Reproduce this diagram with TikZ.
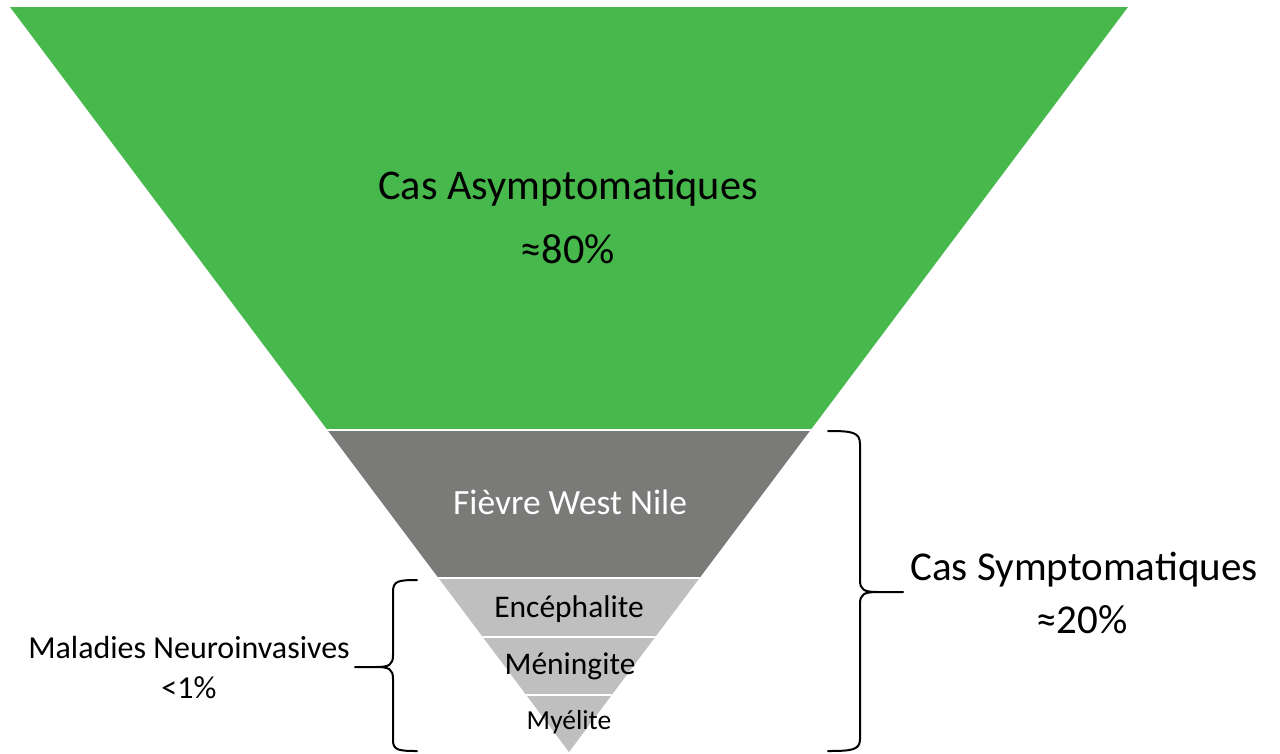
\documentclass[tikz,border=0pt]{standalone}
\usepackage{fontspec}
\setmainfont{Carlito}
\definecolor{fgreen}{RGB}{71,184,75}
\definecolor{fdark}{RGB}{122,122,120}
\definecolor{flight}{RGB}{191,191,191}
\tikzset{
  lbl/.style={anchor=base, inner sep=0pt, text=black},
  brace/.style={draw=black, line width=2pt, line cap=round, line join=round},
  sep/.style={draw=white, line width=2pt}
}
\begin{document}
\begin{tikzpicture}[x=1pt,y=-1pt]
\useasboundingbox (0,0) rectangle (1280,753);
\coordinate (tl) at (10,7);
\coordinate (tr) at (1128,7);
\coordinate (ap) at (569,752);
\begin{scope}
  \clip (tl) -- (tr) -- (ap) -- cycle;
  \fill[fgreen] (0,0) rectangle (1280,430);
  \fill[fdark] (0,430) rectangle (1280,578);
  \fill[flight] (0,578) rectangle (1280,753);
  \draw[sep] (0,430) -- (1280,430);
  \draw[sep] (0,578) -- (1280,578);
  \draw[sep] (0,637) -- (1280,637);
  \draw[sep] (0,695) -- (1280,695);
\end{scope}
% texts
\node[lbl, font=\fontsize{42.3}{50}\selectfont] (asy) at (568,199) {Cas Asymptomatiques};
\node[lbl, font=\fontsize{42.3}{50}\selectfont] (p80) at (568,263) {≈80\%};
\node[lbl, font=\fontsize{35.5}{42}\selectfont, text=white] (fwn) at (570,514) {Fièvre West Nile};
\node[lbl, font=\fontsize{31.5}{38}\selectfont] (enc) at (569,617) {Encéphalite};
\node[lbl, font=\fontsize{31.5}{38}\selectfont] (men) at (570,674) {Méningite};
\node[lbl, font=\fontsize{27.5}{32}\selectfont] (mye) at (569,729) {Myélite};
\node[lbl, font=\fontsize{41}{48}\selectfont] (sym) at (1084,580) {Cas Symptomatiques};
\node[lbl, font=\fontsize{41}{48}\selectfont] (p20) at (1082,633) {≈20\%};
\node[lbl, font=\fontsize{32}{38}\selectfont] (neu) at (189,658) {Maladies Neuroinvasives};
\node[lbl, font=\fontsize{32}{38}\selectfont] (p1) at (189,698) {<1\%};
% right brace
\coordinate (rbt) at (828,431);
\coordinate (rbm) at (903,592);
\coordinate (rbb) at (828,751);
\draw[brace] (rbt) .. controls (852,431) and (860,432) .. (860,444)
  -- (860,580) .. controls (860,590) and (864,592) .. (878,592) -- (rbm);
\draw[brace] (878,592) .. controls (864,592) and (860,594) .. (860,604)
  -- (860,739) .. controls (860,750) and (852,751) .. (rbb);
% left brace
\coordinate (lbt) at (417,580);
\coordinate (lbm) at (355,667);
\coordinate (lbb) at (417,751);
\draw[brace] (lbt) .. controls (398,580) and (393,581) .. (393,592)
  -- (393,655) .. controls (393,665) and (389,667) .. (376,667) -- (lbm);
\draw[brace] (376,667) .. controls (389,667) and (393,669) .. (393,679)
  -- (393,740) .. controls (393,750) and (398,751) .. (lbb);
\end{tikzpicture}
\end{document}
